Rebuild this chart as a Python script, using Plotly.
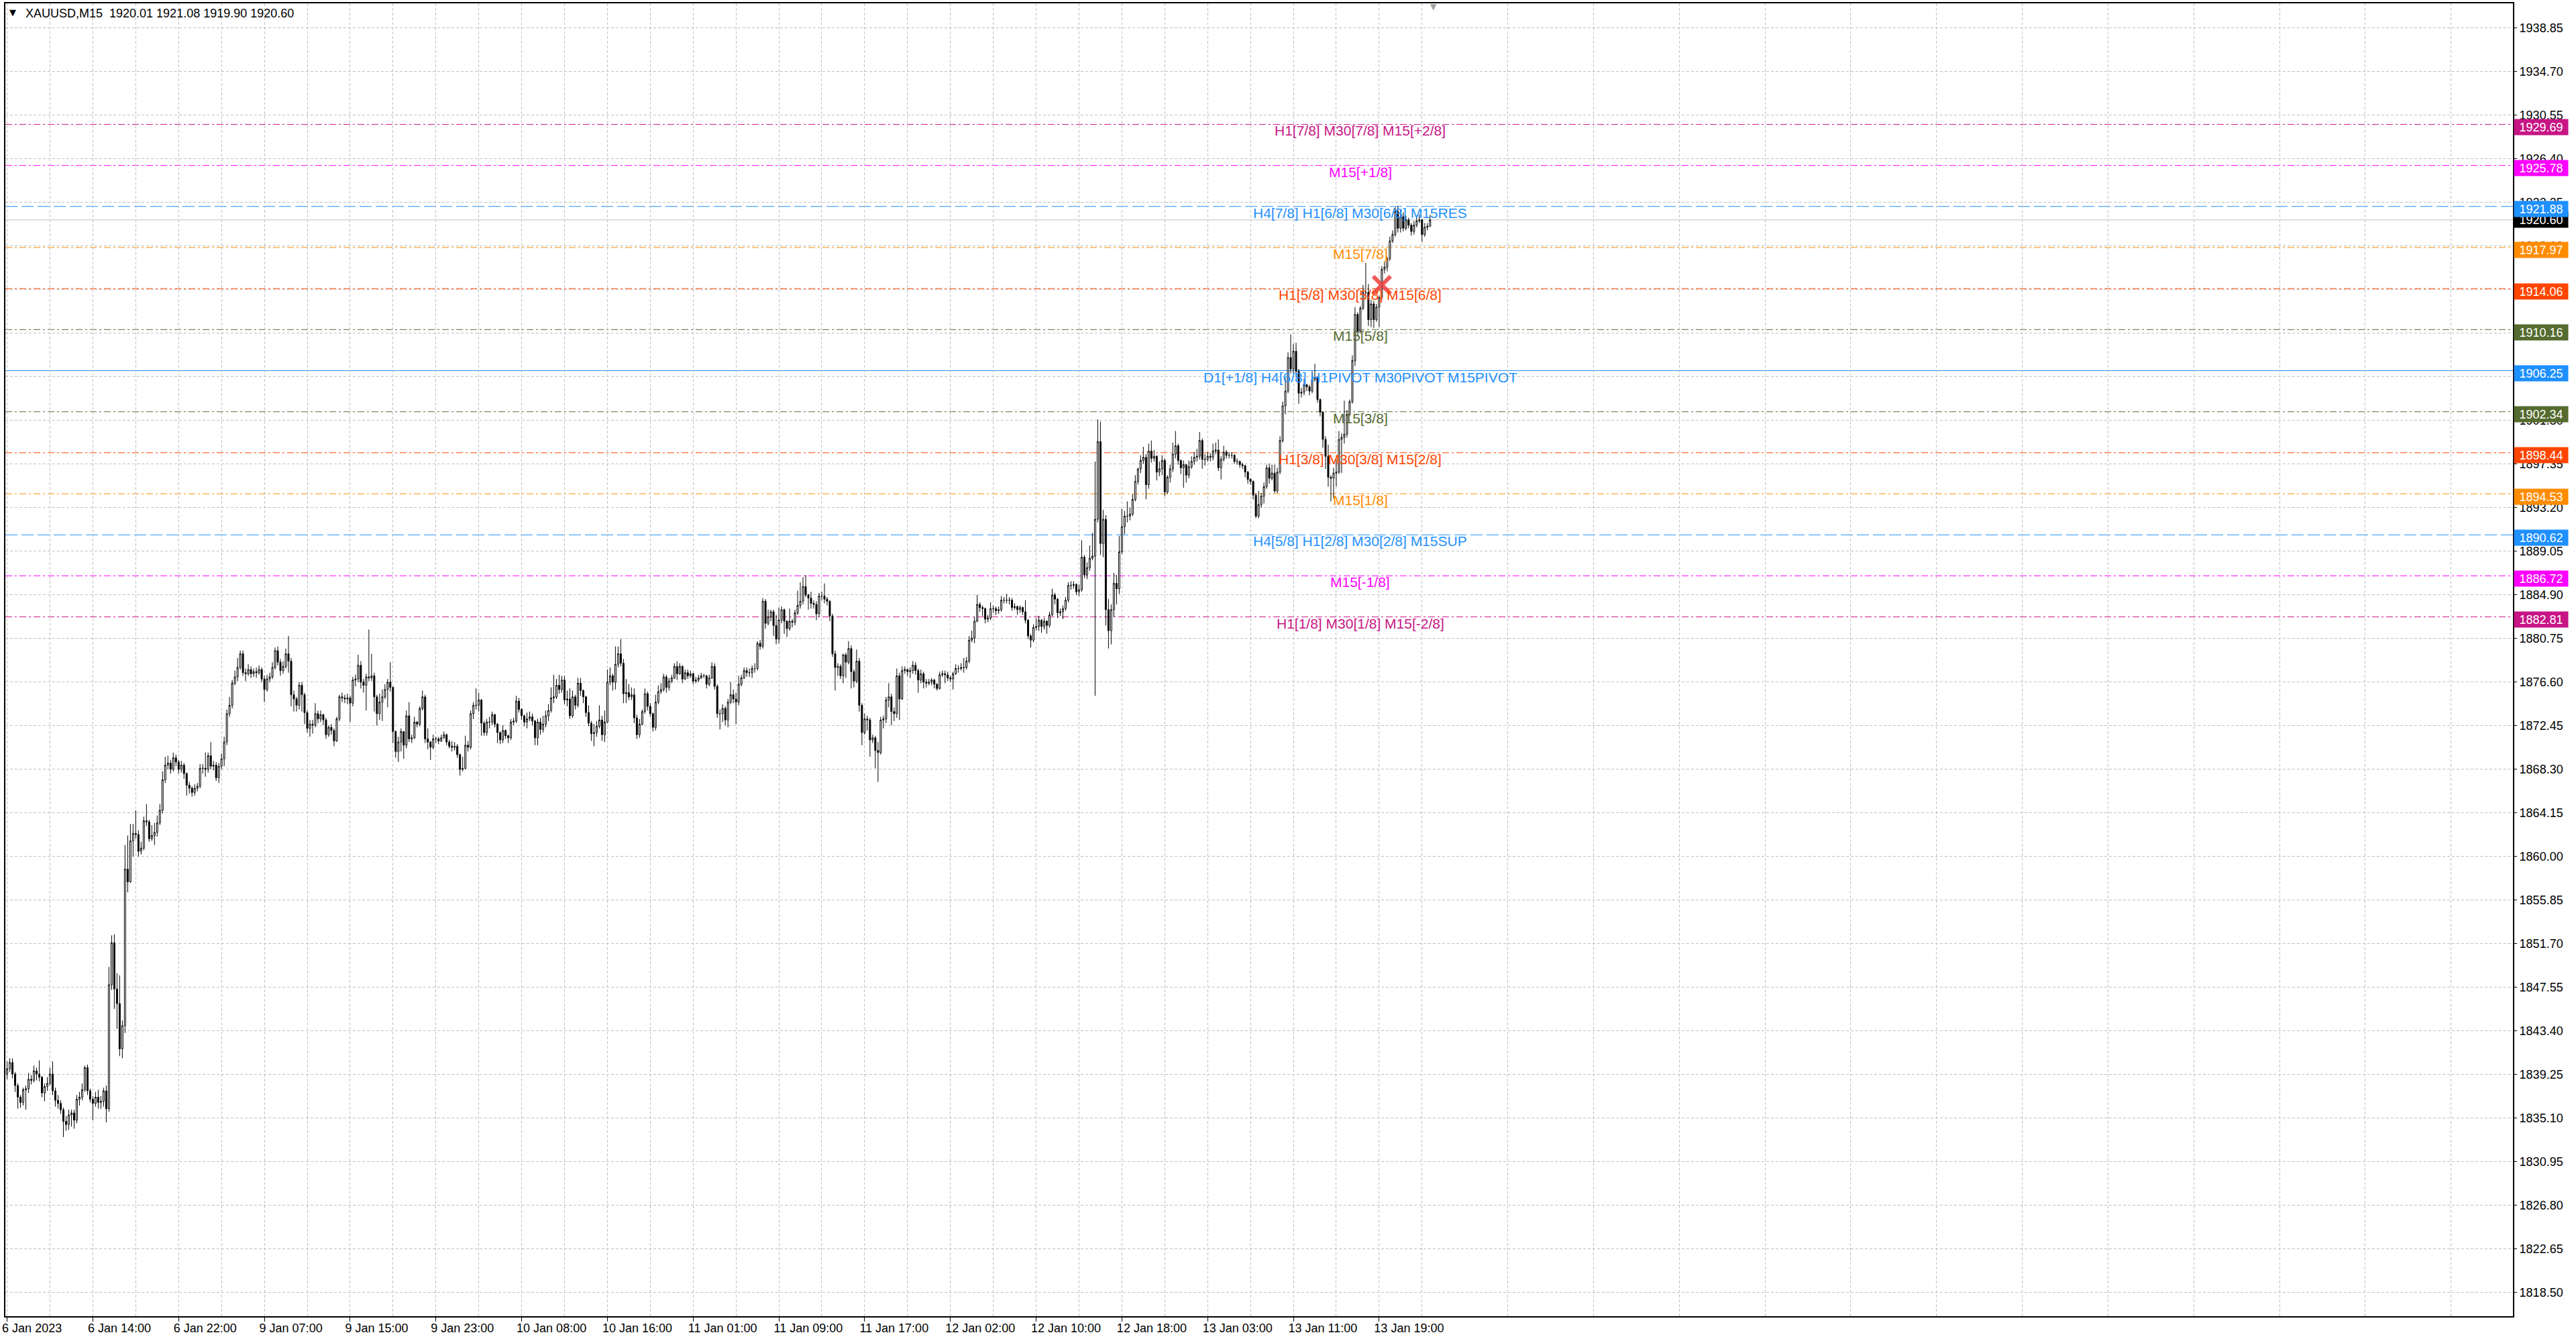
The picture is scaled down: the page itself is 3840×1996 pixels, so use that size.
import plotly.graph_objects as go

# XAUUSD M15 bars, 6 Jan 2023 06:00 -> 13 Jan 2023 23:45
closes = [
    1839.8, 1840.4, 1839.3, 1838.2, 1837.1, 1836.6, 1837.8, 1837.9, 1838.8, 1838.7,
    1839.6, 1839.3, 1839.0, 1837.5, 1838.1, 1838.4, 1839.3, 1837.7, 1836.8, 1836.5,
    1835.9, 1834.8, 1834.5, 1835.4, 1835.6, 1834.9, 1836.9, 1837.1, 1837.8, 1839.9,
    1837.7, 1836.9, 1836.5, 1837.1, 1836.6, 1836.7, 1837.7, 1836.0, 1847.8, 1851.8,
    1847.4, 1846.0, 1841.7, 1843.9, 1858.8, 1857.6, 1861.5, 1862.2, 1862.1, 1860.5,
    1860.8, 1863.4, 1863.3, 1861.7, 1862.0, 1862.3, 1863.2, 1864.4, 1867.3, 1868.7,
    1868.9, 1868.3, 1869.4, 1869.0, 1868.3, 1868.7, 1867.9, 1866.8, 1866.5, 1866.1,
    1866.5, 1866.7, 1868.4, 1868.4, 1868.3, 1869.6, 1868.6, 1868.7, 1867.5, 1868.6,
    1869.3, 1870.9, 1873.6, 1874.4, 1876.5, 1877.1, 1878.0, 1879.3, 1877.5, 1877.4,
    1877.8, 1877.4, 1877.6, 1877.5, 1877.8, 1876.9, 1875.9, 1876.9, 1877.1, 1878.0,
    1879.6, 1878.5, 1877.7, 1878.1, 1879.3, 1878.6, 1875.4, 1875.0, 1874.4, 1876.3,
    1875.4, 1873.7, 1872.2, 1872.6, 1872.5, 1873.6, 1873.1, 1873.5, 1873.0, 1871.6,
    1872.3, 1872.0, 1871.0, 1873.1, 1875.2, 1875.1, 1875.0, 1875.1, 1874.6, 1876.8,
    1876.9, 1878.2, 1876.6, 1876.3, 1877.1, 1877.0, 1877.2, 1875.2, 1873.6, 1874.7,
    1875.2, 1875.9, 1876.6, 1876.1, 1871.9, 1870.0, 1870.9, 1871.9, 1870.6, 1873.4,
    1871.2, 1871.3, 1872.8, 1872.6, 1874.1, 1875.2, 1871.2, 1870.9, 1870.4, 1871.2,
    1871.2, 1871.0, 1871.3, 1871.6, 1870.9, 1870.5, 1870.4, 1870.5, 1869.7, 1868.3,
    1868.4, 1870.6, 1870.4, 1873.6, 1874.4, 1874.4, 1874.9, 1872.7, 1871.8, 1872.8,
    1872.8, 1873.5, 1872.6, 1871.8, 1871.1, 1872.0, 1871.5, 1871.3, 1872.8, 1872.9,
    1874.8, 1874.0, 1873.4, 1872.8, 1873.1, 1873.3, 1872.9, 1871.3, 1872.8, 1872.1,
    1872.6, 1873.4, 1873.9, 1875.1, 1875.2, 1876.3, 1875.9, 1876.8, 1874.9, 1875.0,
    1873.4, 1875.2, 1874.4, 1876.5, 1875.8, 1875.2, 1873.7, 1872.7, 1871.7, 1871.8,
    1872.4, 1873.0, 1871.6, 1872.8, 1876.6, 1877.2, 1876.6, 1878.3, 1879.3, 1878.4,
    1875.5, 1875.6, 1875.2, 1875.4, 1873.2, 1871.6, 1872.6, 1873.8, 1875.5, 1874.3,
    1873.6, 1872.3, 1874.7, 1875.7, 1875.9, 1877.1, 1876.1, 1876.7, 1877.0, 1878.1,
    1877.4, 1878.1, 1876.9, 1877.5, 1877.2, 1877.4, 1876.7, 1876.8, 1877.0, 1877.2,
    1877.2, 1876.4, 1877.0, 1878.1, 1876.2, 1873.6, 1873.6, 1874.1, 1873.0, 1874.7,
    1875.4, 1875.0, 1874.7, 1876.4, 1877.0, 1877.7, 1877.5, 1877.5, 1877.9, 1877.9,
    1880.3, 1880.0, 1884.3, 1882.2, 1882.8, 1883.3, 1882.0, 1880.7, 1882.5, 1883.5,
    1882.4, 1881.7, 1882.4, 1882.3, 1883.2, 1883.9, 1884.3, 1885.7, 1884.9, 1884.6,
    1884.1, 1884.0, 1883.1, 1884.8, 1884.8, 1884.5, 1884.3, 1882.9, 1879.3, 1878.0,
    1878.1, 1877.2, 1879.2, 1878.5, 1879.8, 1877.6, 1876.7, 1878.6, 1874.4, 1871.8,
    1873.1, 1873.0, 1871.1, 1871.3, 1870.1, 1869.9, 1873.0, 1873.1, 1874.9, 1875.2,
    1873.8, 1873.6, 1877.2, 1875.0, 1877.7, 1877.8, 1877.6, 1877.7, 1878.2, 1877.7,
    1876.8, 1877.4, 1876.6, 1876.5, 1876.6, 1876.8, 1876.4, 1876.0, 1877.3, 1877.4,
    1877.3, 1877.0, 1876.9, 1877.4, 1877.9, 1877.9, 1878.0, 1878.0, 1878.6, 1880.6,
    1880.8, 1882.4, 1884.0, 1883.7, 1883.6, 1882.6, 1882.7, 1883.6, 1883.6, 1883.4,
    1883.5, 1884.4, 1884.4, 1884.4, 1884.4, 1883.7, 1883.8, 1883.5, 1883.7, 1883.3,
    1882.5, 1881.0, 1880.6, 1881.8, 1881.9, 1882.5, 1881.9, 1882.4, 1882.0, 1883.0,
    1884.9, 1884.5, 1883.2, 1883.3, 1883.6, 1884.4, 1885.8, 1885.8, 1885.9, 1885.2,
    1885.4, 1888.5, 1886.8, 1887.5, 1888.4, 1888.6, 1892.1, 1899.5, 1889.8, 1892.1,
    1883.5, 1881.5, 1883.5, 1886.0, 1885.5, 1889.0, 1891.4, 1892.4, 1892.4, 1892.6,
    1894.0, 1895.7, 1896.9, 1897.7, 1898.0, 1895.4, 1898.6, 1897.9, 1898.1, 1896.6,
    1896.9, 1897.7, 1894.7, 1896.1, 1896.9, 1898.3, 1899.1, 1897.7, 1897.0, 1897.3,
    1896.3, 1897.1, 1897.6, 1898.0, 1898.1, 1899.6, 1897.8, 1897.8, 1898.1, 1898.0,
    1898.6, 1898.7, 1897.0, 1897.8, 1898.5, 1898.2, 1898.2, 1898.2, 1897.6, 1897.6,
    1897.3, 1897.2, 1896.6, 1895.9, 1895.7, 1894.4, 1892.4, 1893.5, 1894.3, 1895.2,
    1897.0, 1896.0, 1896.5, 1894.8, 1896.6, 1899.6, 1902.9, 1904.3, 1907.5, 1906.4,
    1908.1, 1906.2, 1904.1, 1904.2, 1904.9, 1904.7, 1904.3, 1905.4, 1905.6, 1903.5,
    1902.3, 1899.7, 1898.1, 1896.1, 1896.0, 1896.5, 1896.6, 1899.7, 1899.9, 1900.2,
    1902.1, 1903.3, 1907.2, 1911.6, 1910.0, 1912.2, 1913.7, 1913.7, 1911.1, 1912.6,
    1911.1, 1912.3, 1913.2, 1915.9, 1916.1, 1916.9, 1918.6, 1919.2, 1921.4, 1919.8,
    1920.9, 1919.8, 1920.6, 1920.1, 1919.5, 1920.1, 1920.5, 1920.6, 1919.2, 1919.9,
    1920.01, 1920.60,
]

highs = [
    1840.5, 1840.8, 1840.8, 1839.5, 1838.4, 1837.3, 1838.0, 1838.2, 1839.4, 1839.2,
    1840.1, 1839.9, 1840.6, 1839.1, 1838.4, 1839.0, 1839.9, 1840.5, 1838.0, 1837.3,
    1836.8, 1836.1, 1835.3, 1835.9, 1835.9, 1835.9, 1837.3, 1837.6, 1838.4, 1840.1,
    1840.2, 1837.9, 1837.2, 1837.6, 1837.8, 1837.2, 1838.0, 1838.2, 1849.5, 1852.5,
    1852.6, 1848.9, 1848.7, 1844.4, 1861.1, 1862.0, 1863.1, 1863.1, 1864.4, 1862.5,
    1861.4, 1863.8, 1865.0, 1863.5, 1863.0, 1863.2, 1863.9, 1865.0, 1868.1, 1869.5,
    1869.6, 1869.2, 1869.9, 1869.7, 1869.2, 1869.1, 1868.9, 1868.0, 1867.1, 1866.7,
    1866.9, 1867.0, 1868.8, 1868.8, 1869.9, 1869.9, 1870.9, 1869.1, 1869.0, 1868.9,
    1869.8, 1871.4, 1874.0, 1875.2, 1876.8, 1877.7, 1878.9, 1879.6, 1879.6, 1877.9,
    1878.3, 1878.1, 1877.9, 1878.0, 1878.2, 1878.0, 1877.2, 1877.3, 1877.5, 1878.5,
    1879.9, 1880.0, 1878.8, 1878.6, 1879.8, 1881.0, 1878.9, 1875.8, 1875.2, 1876.6,
    1876.6, 1875.6, 1873.9, 1873.0, 1873.0, 1874.6, 1873.9, 1873.9, 1873.6, 1873.2,
    1872.5, 1872.6, 1872.2, 1873.3, 1875.4, 1875.6, 1875.4, 1875.5, 1875.3, 1877.1,
    1877.3, 1879.2, 1878.6, 1876.9, 1877.4, 1881.6, 1879.3, 1877.5, 1875.4, 1875.5,
    1875.9, 1876.4, 1876.9, 1878.5, 1876.2, 1872.0, 1871.4, 1872.2, 1871.9, 1873.9,
    1874.7, 1871.6, 1873.3, 1872.9, 1874.3, 1875.8, 1875.4, 1872.2, 1871.0, 1871.6,
    1871.4, 1871.4, 1871.6, 1871.9, 1871.7, 1871.1, 1871.0, 1870.9, 1870.7, 1869.8,
    1869.5, 1871.5, 1871.0, 1873.9, 1874.7, 1876.0, 1875.6, 1875.0, 1872.9, 1873.1,
    1873.3, 1873.8, 1873.6, 1872.7, 1871.9, 1872.5, 1872.1, 1871.6, 1873.1, 1873.2,
    1875.3, 1875.1, 1874.1, 1873.5, 1873.7, 1873.8, 1873.6, 1873.0, 1873.1, 1873.2,
    1873.4, 1873.9, 1874.5, 1876.1, 1877.3, 1876.9, 1877.3, 1877.2, 1877.2, 1875.8,
    1876.0, 1875.8, 1875.4, 1877.0, 1877.0, 1875.9, 1875.3, 1874.4, 1872.9, 1872.6,
    1872.9, 1874.4, 1873.4, 1873.9, 1877.8, 1878.0, 1877.4, 1880.0, 1880.0, 1880.7,
    1878.8, 1876.9, 1876.4, 1876.1, 1876.0, 1873.5, 1873.1, 1874.0, 1876.0, 1875.7,
    1874.6, 1873.7, 1875.4, 1876.3, 1876.5, 1877.4, 1877.3, 1877.0, 1877.3, 1878.4,
    1878.6, 1878.4, 1878.2, 1877.8, 1877.8, 1877.7, 1877.5, 1877.1, 1877.3, 1877.5,
    1877.4, 1877.3, 1877.3, 1878.5, 1878.4, 1876.4, 1874.0, 1874.5, 1874.3, 1875.0,
    1876.6, 1875.9, 1875.6, 1877.2, 1877.3, 1878.0, 1878.0, 1877.9, 1878.2, 1878.4,
    1880.5, 1880.6, 1884.6, 1884.5, 1883.5, 1883.5, 1883.5, 1883.0, 1883.7, 1883.8,
    1883.6, 1882.5, 1883.6, 1882.6, 1883.5, 1885.3, 1886.1, 1886.6, 1886.8, 1885.0,
    1885.2, 1884.4, 1884.3, 1885.1, 1885.2, 1886.0, 1884.7, 1884.4, 1883.1, 1879.6,
    1878.4, 1878.3, 1879.3, 1879.4, 1880.5, 1880.1, 1877.8, 1879.7, 1878.9, 1874.6,
    1873.6, 1873.4, 1873.2, 1871.6, 1871.5, 1870.9, 1873.3, 1873.4, 1875.2, 1876.5,
    1875.5, 1874.2, 1877.9, 1877.5, 1878.1, 1878.1, 1877.9, 1878.0, 1878.6, 1878.5,
    1877.9, 1877.8, 1877.6, 1876.9, 1876.9, 1877.0, 1876.9, 1876.5, 1877.6, 1877.7,
    1877.7, 1877.6, 1877.2, 1877.6, 1878.3, 1878.2, 1878.4, 1878.9, 1879.0, 1881.0,
    1881.5, 1882.8, 1884.9, 1884.2, 1883.9, 1883.7, 1883.0, 1884.2, 1883.9, 1883.8,
    1883.8, 1884.8, 1884.7, 1885.0, 1884.7, 1884.6, 1884.1, 1883.9, 1883.9, 1883.8,
    1884.4, 1882.6, 1881.2, 1882.1, 1882.7, 1882.9, 1882.6, 1882.7, 1882.5, 1883.3,
    1885.5, 1885.1, 1884.6, 1883.6, 1883.9, 1884.7, 1886.1, 1886.2, 1886.2, 1886.0,
    1885.9, 1890.1, 1888.7, 1888.0, 1889.6, 1890.8, 1897.6, 1901.6, 1901.4, 1893.0,
    1892.5, 1884.5, 1884.0, 1887.0, 1886.8, 1890.5, 1893.1, 1892.9, 1893.8, 1893.2,
    1894.5, 1896.3, 1897.0, 1898.2, 1899.0, 1898.3, 1899.3, 1899.6, 1898.7, 1898.2,
    1897.6, 1898.2, 1897.9, 1896.3, 1897.3, 1899.4, 1900.5, 1899.3, 1897.8, 1897.7,
    1896.8, 1897.7, 1898.1, 1898.5, 1898.8, 1900.4, 1899.8, 1898.3, 1898.5, 1898.4,
    1899.3, 1899.4, 1899.7, 1898.1, 1899.1, 1898.7, 1898.5, 1898.5, 1898.3, 1897.9,
    1897.7, 1897.5, 1897.3, 1896.7, 1896.0, 1895.8, 1894.6, 1894.8, 1894.6, 1895.6,
    1897.3, 1897.4, 1897.3, 1897.3, 1897.0, 1900.0, 1903.3, 1905.5, 1908.0, 1909.7,
    1908.8, 1908.9, 1906.4, 1904.6, 1905.5, 1905.0, 1904.9, 1906.2, 1906.9, 1905.7,
    1903.6, 1902.4, 1900.0, 1899.2, 1896.3, 1897.0, 1897.9, 1900.5, 1900.3, 1903.4,
    1902.5, 1903.5, 1907.7, 1912.3, 1911.8, 1912.4, 1914.4, 1916.5, 1914.5, 1913.0,
    1912.9, 1912.6, 1913.4, 1916.2, 1916.6, 1917.1, 1919.0, 1919.6, 1921.8, 1921.9,
    1921.6, 1921.3, 1921.0, 1920.8, 1920.3, 1920.5, 1921.0, 1921.1, 1920.7, 1920.3,
    1920.3, 1921.08,
]

lows = [
    1838.8, 1839.5, 1838.9, 1837.6, 1836.0, 1836.1, 1836.3, 1835.9, 1837.5, 1838.3,
    1838.5, 1838.7, 1838.6, 1837.1, 1836.7, 1837.7, 1838.2, 1837.3, 1836.2, 1836.0,
    1835.5, 1833.3, 1833.9, 1834.0, 1834.3, 1834.1, 1834.6, 1836.3, 1836.8, 1837.6,
    1837.3, 1836.6, 1834.9, 1836.2, 1836.0, 1836.0, 1836.2, 1834.7, 1835.7, 1847.3,
    1845.5, 1843.6, 1841.0, 1840.8, 1843.2, 1856.6, 1857.5, 1860.0, 1861.7, 1860.0,
    1860.2, 1860.6, 1862.9, 1861.4, 1861.5, 1861.1, 1861.9, 1863.0, 1864.1, 1867.0,
    1868.3, 1867.9, 1868.1, 1868.6, 1867.9, 1868.0, 1867.4, 1865.8, 1866.0, 1865.7,
    1865.8, 1866.2, 1866.5, 1867.9, 1867.6, 1868.0, 1868.3, 1868.2, 1867.2, 1867.0,
    1868.3, 1868.6, 1870.6, 1873.3, 1874.1, 1876.3, 1876.7, 1877.8, 1877.2, 1876.7,
    1877.2, 1877.0, 1877.1, 1877.0, 1877.3, 1876.6, 1874.7, 1875.7, 1876.6, 1876.9,
    1877.8, 1878.2, 1877.2, 1877.4, 1877.9, 1877.5, 1874.3, 1873.8, 1873.8, 1874.0,
    1873.8, 1872.6, 1871.8, 1871.4, 1871.7, 1872.3, 1872.7, 1872.8, 1872.5, 1871.2,
    1871.4, 1871.6, 1870.5, 1870.9, 1872.9, 1874.7, 1874.6, 1874.5, 1872.8, 1874.3,
    1876.2, 1876.6, 1876.0, 1875.6, 1873.9, 1876.7, 1876.7, 1873.8, 1872.5, 1873.0,
    1872.9, 1875.0, 1874.2, 1875.7, 1870.8, 1869.4, 1869.0, 1870.0, 1869.3, 1870.3,
    1870.9, 1870.8, 1871.2, 1872.3, 1872.4, 1873.9, 1870.8, 1870.2, 1869.2, 1870.2,
    1870.8, 1870.7, 1870.9, 1871.2, 1870.6, 1870.3, 1870.0, 1870.1, 1869.4, 1867.7,
    1868.1, 1868.3, 1870.0, 1870.2, 1873.1, 1874.0, 1873.8, 1871.5, 1871.5, 1871.5,
    1872.2, 1872.5, 1872.3, 1870.8, 1870.7, 1870.8, 1871.2, 1870.8, 1871.1, 1872.5,
    1872.7, 1873.7, 1873.0, 1872.4, 1872.2, 1872.9, 1872.5, 1870.6, 1870.6, 1871.6,
    1871.8, 1872.3, 1872.9, 1873.7, 1874.6, 1875.0, 1875.5, 1875.6, 1874.5, 1874.3,
    1873.1, 1873.2, 1874.0, 1874.2, 1875.3, 1874.6, 1873.3, 1872.4, 1871.0, 1870.5,
    1871.4, 1872.2, 1871.0, 1870.9, 1872.7, 1876.3, 1875.8, 1875.9, 1878.0, 1878.1,
    1874.6, 1874.6, 1874.9, 1874.9, 1872.7, 1871.2, 1871.3, 1872.5, 1873.6, 1873.9,
    1873.3, 1871.9, 1872.0, 1874.5, 1875.5, 1875.7, 1875.6, 1875.8, 1876.5, 1876.9,
    1876.8, 1877.3, 1876.5, 1876.8, 1876.9, 1877.0, 1876.4, 1876.5, 1876.6, 1876.9,
    1877.0, 1876.0, 1876.2, 1876.9, 1875.9, 1873.2, 1872.1, 1872.8, 1872.5, 1872.3,
    1874.5, 1874.6, 1872.6, 1874.4, 1876.2, 1876.9, 1877.1, 1877.1, 1877.0, 1877.5,
    1877.7, 1879.7, 1879.8, 1881.7, 1882.0, 1882.4, 1881.0, 1880.2, 1880.3, 1882.2,
    1881.2, 1880.9, 1881.5, 1881.8, 1882.0, 1883.0, 1883.6, 1884.0, 1884.7, 1883.5,
    1883.6, 1883.6, 1882.5, 1882.8, 1884.4, 1884.1, 1883.9, 1882.4, 1879.0, 1875.8,
    1877.2, 1876.9, 1876.5, 1877.0, 1878.3, 1876.0, 1876.1, 1876.5, 1873.8, 1870.6,
    1871.6, 1872.0, 1869.5, 1870.8, 1868.4, 1867.1, 1869.7, 1872.2, 1872.7, 1874.2,
    1872.5, 1872.9, 1873.2, 1873.0, 1874.9, 1877.4, 1877.2, 1877.0, 1877.4, 1877.3,
    1875.6, 1876.5, 1876.0, 1876.1, 1876.3, 1876.3, 1876.0, 1875.8, 1875.9, 1877.1,
    1876.5, 1876.7, 1876.6, 1875.9, 1877.3, 1877.5, 1877.7, 1877.5, 1877.8, 1878.4,
    1880.4, 1880.3, 1882.3, 1883.3, 1882.9, 1882.2, 1882.3, 1882.5, 1883.2, 1883.0,
    1883.1, 1883.3, 1884.1, 1884.1, 1884.0, 1883.4, 1883.5, 1883.0, 1883.2, 1883.0,
    1882.2, 1880.7, 1879.9, 1880.4, 1881.5, 1881.5, 1881.3, 1881.6, 1881.2, 1881.8,
    1882.9, 1884.0, 1882.7, 1882.9, 1882.6, 1883.4, 1884.2, 1885.4, 1885.5, 1884.9,
    1884.8, 1885.2, 1886.5, 1886.4, 1887.2, 1888.2, 1875.3, 1891.8, 1888.7, 1888.5,
    1882.0, 1879.8, 1880.2, 1882.8, 1884.0, 1885.0, 1888.8, 1890.7, 1891.8, 1892.0,
    1892.4, 1893.8, 1895.4, 1896.5, 1897.4, 1894.0, 1895.0, 1897.5, 1897.6, 1895.8,
    1896.2, 1896.3, 1894.3, 1894.5, 1895.6, 1896.6, 1897.9, 1897.3, 1896.4, 1895.1,
    1895.6, 1896.0, 1896.9, 1897.3, 1897.6, 1897.8, 1896.9, 1897.2, 1897.6, 1897.6,
    1897.7, 1898.3, 1896.7, 1895.9, 1897.6, 1897.9, 1897.9, 1897.9, 1897.4, 1897.3,
    1897.0, 1896.9, 1896.1, 1895.5, 1895.4, 1894.0, 1892.2, 1892.2, 1893.2, 1893.6,
    1895.0, 1895.5, 1895.8, 1894.6, 1894.6, 1896.4, 1899.4, 1902.1, 1904.1, 1906.0,
    1905.9, 1905.6, 1903.1, 1903.7, 1903.9, 1904.3, 1903.9, 1904.1, 1905.2, 1903.2,
    1901.9, 1898.9, 1896.9, 1895.2, 1893.8, 1894.1, 1895.2, 1896.4, 1896.5, 1899.3,
    1899.9, 1901.9, 1903.1, 1906.7, 1909.5, 1909.8, 1912.0, 1913.4, 1910.5, 1910.4,
    1910.3, 1910.9, 1910.4, 1913.0, 1915.5, 1915.7, 1916.7, 1918.4, 1919.0, 1919.4,
    1919.4, 1919.5, 1919.6, 1919.8, 1919.1, 1919.2, 1919.9, 1920.3, 1918.5, 1919.0,
    1919.6, 1919.90,
]

first_open = 1839.3

x_tick_bars = [0, 32, 64, 96, 128, 160, 192, 224, 256, 288, 320, 352, 384, 416, 448, 480, 512]
x_tick_labels = ['6 Jan 2023', '6 Jan 14:00', '6 Jan 22:00', '9 Jan 07:00', '9 Jan 15:00',
                 '9 Jan 23:00', '10 Jan 08:00', '10 Jan 16:00', '11 Jan 01:00', '11 Jan 09:00',
                 '11 Jan 17:00', '12 Jan 02:00', '12 Jan 10:00', '12 Jan 18:00', '13 Jan 03:00',
                 '13 Jan 11:00', '13 Jan 19:00']
x_grid_bars = [16, 48, 80, 112, 144, 176, 208, 240, 272, 304, 336, 368, 400, 432, 464, 496, 528,
               560, 592, 624, 656, 688, 720, 752, 784, 816, 848, 880, 912]

y_ticks = [1818.50, 1822.65, 1826.80, 1830.95, 1835.10, 1839.25, 1843.40, 1847.55, 1851.70,
           1855.85, 1860.00, 1864.15, 1868.30, 1872.45, 1876.60, 1880.75, 1884.90, 1889.05,
           1893.20, 1897.35, 1901.50, 1905.65, 1909.80, 1913.95, 1918.10, 1922.25, 1926.40,
           1930.55, 1934.70, 1938.85]

# Murrey math levels
level_prices = [1929.69, 1925.78, 1921.88, 1917.97, 1914.06, 1910.16, 1906.25,
                1902.34, 1898.44, 1894.53, 1890.62, 1886.72, 1882.81]
level_names = ['H1[7/8] M30[7/8] M15[+2/8]', 'M15[+1/8]', 'H4[7/8] H1[6/8] M30[6/8] M15RES',
               'M15[7/8]', 'H1[5/8] M30[5/8] M15[6/8]', 'M15[5/8]',
               'D1[+1/8] H4[6/8] H1PIVOT M30PIVOT M15PIVOT', 'M15[3/8]',
               'H1[3/8] M30[3/8] M15[2/8]', 'M15[1/8]', 'H4[5/8] H1[2/8] M30[2/8] M15SUP',
               'M15[-1/8]', 'H1[1/8] M30[1/8] M15[-2/8]']
level_colors = ['#C71585', '#FF00FF', '#1E90FF', '#FF8C00', '#FF4500', '#556B2F', '#1E90FF',
                '#556B2F', '#FF4500', '#FF8C00', '#1E90FF', '#FF00FF', '#C71585']
DASHDOT = '10px,4px,3px,4px'
level_dash = [DASHDOT, DASHDOT, '18px,6px', DASHDOT, DASHDOT, DASHDOT, 'solid',
              DASHDOT, DASHDOT, DASHDOT, '18px,6px', DASHDOT, DASHDOT]
label_bar = 505

signal_bar = [513]
signal_price = [1914.4]

last_price = 1920.60
title_text = 'XAUUSD,M15\u00a0\u00a01920.01 1921.08 1919.90 1920.60'

n = len(closes)
assert len(highs) == n and len(lows) == n, (n, len(highs), len(lows))
bars = list(range(n))
opens = [first_open] + closes[:-1]
opens[-1] = 1920.01
highs = [max(h, o, c) for h, o, c in zip(highs, opens, closes)]
lows = [min(l, o, c) for l, o, c in zip(lows, opens, closes)]

FONT = 'Liberation Sans, Arial, sans-serif'
GRID = '#C0C0C0'

fig = go.Figure()

for price, color, dash in zip(level_prices, level_colors, level_dash):
    fig.add_hline(y=price, line=dict(color=color, width=1, dash=dash), layer='below')
fig.add_hline(y=last_price, line=dict(color='#C0C0C0', width=1), layer='below')

fig.add_candlestick(
    x=bars, open=opens, high=highs, low=lows, close=closes,
    increasing=dict(line=dict(color='black', width=1), fillcolor='white'),
    decreasing=dict(line=dict(color='black', width=1), fillcolor='black'),
    whiskerwidth=0, showlegend=False, hoverinfo='skip',
)

fig.add_scatter(x=signal_bar, y=signal_price, mode='markers', showlegend=False, hoverinfo='skip',
                marker=dict(symbol='x-thin', size=26, line=dict(color='rgba(238,60,60,0.85)', width=6)))

for price, name, color in zip(level_prices, level_names, level_colors):
    fig.add_annotation(x=label_bar, y=price, xref='x', yref='y', text=name, showarrow=False,
                       xanchor='center', yanchor='top', yshift=4,
                       font=dict(family=FONT, size=21, color=color))

# price boxes on the right scale
fig.add_annotation(x=1, y=last_price, xref='paper', yref='y', text=f'{last_price:.2f}',
                   showarrow=False, xanchor='left', xshift=1, bgcolor='black',
                   width=74, height=17, borderpad=3, align='center',
                   font=dict(family=FONT, size=18, color='white'))
for price, color in zip(level_prices, level_colors):
    fig.add_annotation(x=1, y=price, xref='paper', yref='y', text=f'{price:.2f}',
                       showarrow=False, xanchor='left', xshift=1, yshift=-4, bgcolor=color,
                       width=74, height=17, borderpad=3, align='center',
                       font=dict(family=FONT, size=18, color='white'))

fig.add_annotation(x=0, y=1, xref='paper', yref='paper', text='\u25bc', showarrow=False,
                   xanchor='left', yanchor='top', xshift=4, yshift=-4,
                   font=dict(family='DejaVu Sans', size=13, color='black'))
fig.add_annotation(x=0, y=1, xref='paper', yref='paper', text=title_text, showarrow=False,
                   xanchor='left', yanchor='top', xshift=28, yshift=-3,
                   font=dict(family=FONT, size=18, color='black'))
fig.add_annotation(x=n + 0.3, y=1, xref='x', yref='paper', text='\u25bc', showarrow=False,
                   xanchor='center', yanchor='top', yshift=4,
                   font=dict(family='DejaVu Sans', size=12, color='#A0A0A0'))

fig.update_xaxes(
    range=[-0.65, 935.1], tickmode='array', tickvals=x_tick_bars, ticktext=x_tick_labels,
    ticks='outside', ticklen=6, tickcolor='black', ticklabelposition='outside right',
    ticklabelshift=-9,
    tickfont=dict(family=FONT, size=18, color='black'),
    showline=True, linecolor='black', linewidth=2, mirror=True,
    showgrid=True, gridcolor=GRID, griddash='4px,3px', gridwidth=1, zeroline=False,
    minor=dict(tickmode='array', tickvals=x_grid_bars, showgrid=True, gridcolor=GRID,
               griddash='4px,3px', ticks=''),
    rangeslider=dict(visible=False),
)
fig.update_yaxes(
    range=[1816.25, 1941.21], side='right', tickmode='array', tickvals=y_ticks,
    ticktext=[f'{v:.2f}' for v in y_ticks], ticks='outside', ticklen=4, tickcolor='black',
    tickfont=dict(family=FONT, size=18, color='black'),
    showline=True, linecolor='black', linewidth=2, mirror=True,
    showgrid=True, gridcolor=GRID, griddash='4px,3px', gridwidth=1, zeroline=False,
)
fig.update_layout(
    width=3840, height=1996, paper_bgcolor='white', plot_bgcolor='white',
    margin=dict(l=3, r=94, t=5, b=34), showlegend=False,
)

fig.write_html('out.html', config={'displayModeBar': False},
               post_script="document.body.style.margin='0';")
